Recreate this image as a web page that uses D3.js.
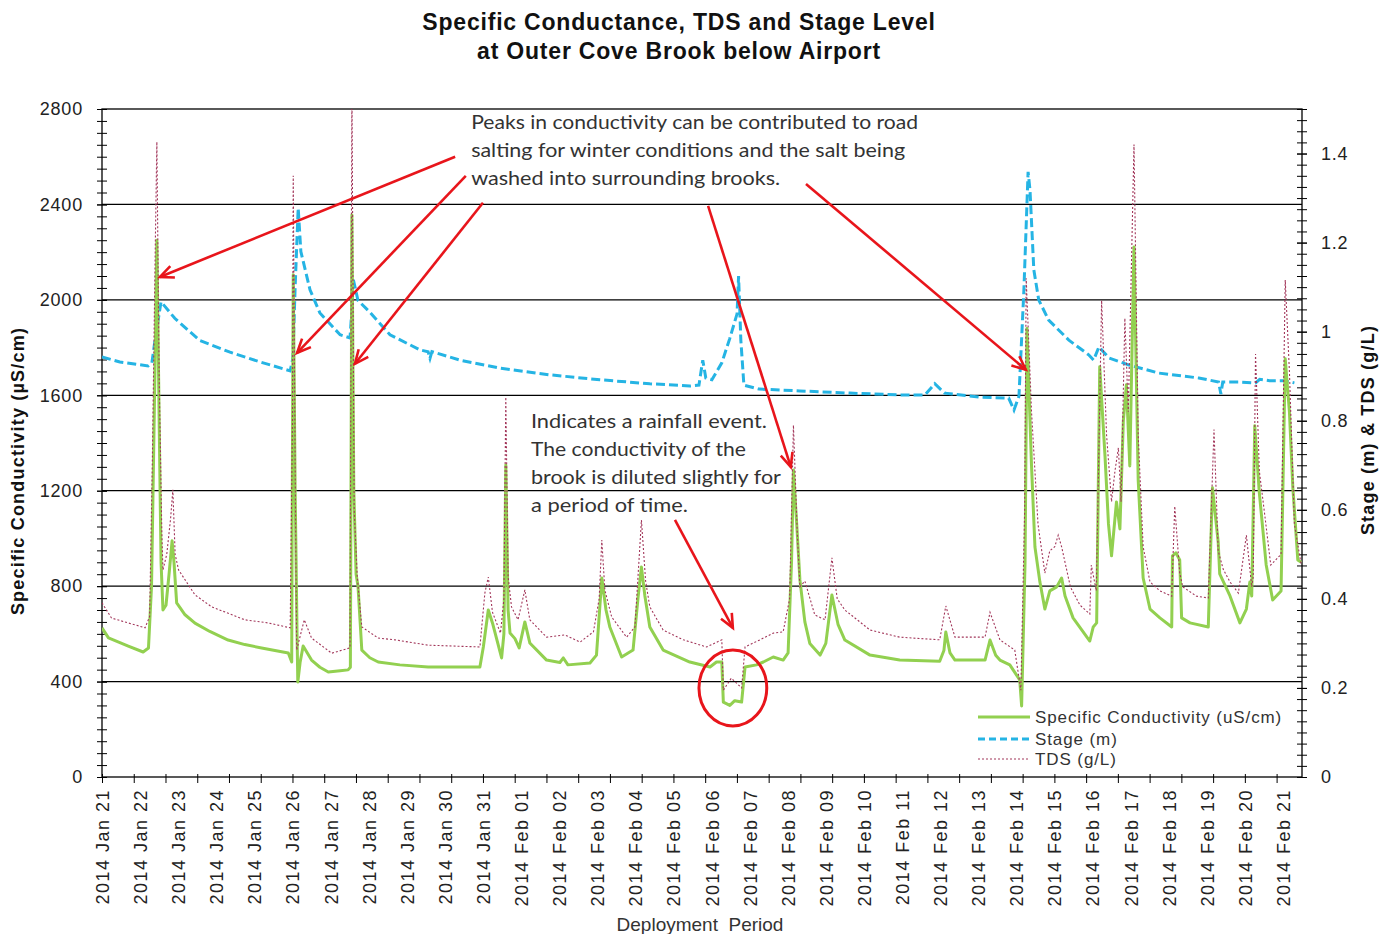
<!DOCTYPE html>
<html><head><meta charset="utf-8">
<script src="https://cdn.jsdelivr.net/npm/d3@7"></script>
<style>body{margin:0;background:#fff} svg{display:block}</style>
</head><body><svg id="c" width="1390" height="934"></svg>
<script>
// ---------- DATA ----------
const dayLabels = ["2014 Jan 21","2014 Jan 22","2014 Jan 23","2014 Jan 24","2014 Jan 25","2014 Jan 26","2014 Jan 27","2014 Jan 28","2014 Jan 29","2014 Jan 30","2014 Jan 31","2014 Feb 01","2014 Feb 02","2014 Feb 03","2014 Feb 04","2014 Feb 05","2014 Feb 06","2014 Feb 07","2014 Feb 08","2014 Feb 09","2014 Feb 10","2014 Feb 11","2014 Feb 12","2014 Feb 13","2014 Feb 14","2014 Feb 15","2014 Feb 16","2014 Feb 17","2014 Feb 18","2014 Feb 19","2014 Feb 20","2014 Feb 21"];
const leftTicks = [0,400,800,1200,1600,2000,2400,2800];
const rightTicks = [0,0.2,0.4,0.6,0.8,1,1.2,1.4];

// days since 2014 Jan 21 00:00
const condDays = [0.0,0.17,0.69,1.08,1.22,1.30,1.39,1.44,1.50,1.55,1.60,1.68,1.76,1.84,1.89,1.96,2.18,2.44,2.83,3.31,3.75,4.19,4.54,4.89,4.98,4.99,5.02,5.07,5.12,5.14,5.20,5.28,5.50,5.72,5.94,6.25,6.46,6.52,6.56,6.61,6.67,6.72,6.82,7.03,7.25,7.82,8.56,9.40,9.92,10.01,10.14,10.26,10.49,10.55,10.60,10.66,10.71,10.84,10.95,11.10,11.23,11.67,12.02,12.11,12.23,12.81,12.98,13.12,13.23,13.33,13.64,13.94,14.07,14.16,14.25,14.38,14.73,15.43,15.96,16.13,16.27,16.31,16.48,16.61,16.79,16.88,17.18,17.36,17.62,17.88,18.01,18.10,18.15,18.24,18.32,18.45,18.58,18.85,19.00,19.16,19.32,19.50,20.16,20.94,21.99,22.10,22.15,22.26,22.39,23.18,23.31,23.46,23.57,23.83,24.09,24.14,24.23,24.28,24.40,24.49,24.62,24.75,24.88,25.06,25.19,25.28,25.49,25.93,26.02,26.11,26.19,26.33,26.42,26.50,26.63,26.72,26.81,26.89,26.98,27.09,27.20,27.33,27.51,27.77,28.08,28.10,28.19,28.29,28.34,28.56,29.04,29.15,29.30,29.34,29.61,29.87,30.04,30.13,30.18,30.26,30.38,30.56,30.73,30.95,31.06,31.17,31.26,31.39,31.48];
const condValues = [625,583,549,524,541,800,1700,2250,1500,900,700,720,850,990,900,730,680,645,610,574,555,541,530,520,482,1000,2105,1200,600,398,480,549,490,460,440,445,449,460,2356,1200,850,800,532,500,482,470,461,461,461,545,700,640,499,600,1308,700,604,580,541,650,562,490,480,499,470,478,511,834,700,629,503,532,750,880,760,629,532,482,461,482,482,314,300,320,314,461,470,482,503,490,520,900,1287,1050,826,650,560,511,560,763,640,574,511,490,485,530,608,520,490,490,574,510,490,470,407,298,900,1880,1304,964,817,704,780,797,834,759,667,570,629,646,1720,1342,1061,927,1153,1040,1493,1644,1304,2222,1245,834,704,667,629,927,940,910,667,646,629,1212,985,851,759,646,704,817,759,1472,1191,889,742,780,1753,1530,1212,910,900];

const tdsDays = [0.0,0.25,0.69,1.13,1.25,1.32,1.40,1.44,1.50,1.57,1.60,1.70,1.80,1.86,1.92,2.01,2.44,2.88,3.75,4.36,4.94,5.00,5.02,5.07,5.11,5.31,5.50,6.03,6.51,6.56,6.62,6.70,6.82,7.25,7.69,8.56,9.92,10.05,10.14,10.25,10.46,10.55,10.60,10.66,10.75,10.92,11.10,11.23,11.67,12.15,12.55,12.90,13.05,13.12,13.20,13.38,13.77,13.99,14.16,14.27,14.38,14.73,15.26,15.87,16.27,16.31,16.52,16.79,16.88,17.27,17.62,17.88,18.05,18.15,18.25,18.32,18.45,18.71,18.98,19.16,19.30,19.50,20.16,20.94,21.99,22.15,22.39,23.18,23.31,23.57,23.96,24.12,24.22,24.26,24.40,24.57,24.75,24.88,25.01,25.10,25.19,25.42,25.67,25.93,25.97,26.10,26.24,26.37,26.50,26.59,26.68,26.75,26.85,26.94,27.09,27.20,27.33,27.51,27.77,28.08,28.16,28.29,28.37,28.73,29.04,29.19,29.30,29.43,29.61,29.83,30.04,30.18,30.22,30.28,30.38,30.51,30.68,30.95,31.06,31.17,31.30,31.48];
const tdsValues = [0.391,0.357,0.346,0.335,0.36,0.7,1.2,1.426,0.9,0.55,0.465,0.5,0.58,0.645,0.5,0.465,0.409,0.382,0.353,0.346,0.335,0.8,1.35,0.7,0.285,0.353,0.312,0.278,0.29,1.55,0.6,0.45,0.337,0.312,0.308,0.296,0.292,0.413,0.449,0.37,0.323,0.4,0.853,0.45,0.382,0.353,0.42,0.353,0.314,0.319,0.303,0.326,0.4,0.532,0.42,0.359,0.314,0.337,0.577,0.44,0.382,0.33,0.308,0.292,0.308,0.195,0.222,0.2,0.292,0.308,0.323,0.326,0.4,0.79,0.55,0.427,0.44,0.364,0.353,0.492,0.4,0.375,0.33,0.314,0.308,0.384,0.314,0.314,0.37,0.308,0.285,0.195,0.6,1.12,0.82,0.568,0.458,0.508,0.517,0.543,0.517,0.427,0.386,0.366,0.476,0.418,1.07,0.768,0.618,0.687,0.739,0.618,1.03,0.82,1.42,0.768,0.517,0.438,0.418,0.406,0.608,0.458,0.427,0.406,0.402,0.78,0.508,0.467,0.438,0.413,0.543,0.427,0.45,0.95,0.687,0.597,0.476,0.5,1.116,0.91,0.568,0.476];

const stageDays = [0.0,0.47,1.21,1.31,1.39,1.50,1.55,1.91,2.57,3.36,4.15,4.94,5.01,5.07,5.15,5.22,5.46,5.72,6.25,6.51,6.56,6.59,6.72,7.03,7.56,8.35,8.56,8.61,8.66,9.40,10.45,11.76,13.07,14.38,15.43,15.67,15.77,15.85,16.01,16.27,16.48,16.67,16.71,16.77,16.85,17.25,18.32,19.63,20.94,21.60,21.86,22.12,23.02,23.80,23.94,24.07,24.20,24.31,24.36,24.46,24.59,24.85,25.38,25.90,26.03,26.17,26.43,26.96,27.74,28.79,29.31,29.37,29.42,29.84,30.28,30.39,30.65,31.02,31.30];
const stageValues = [0.943,0.932,0.923,0.93,0.98,1.04,1.067,1.03,0.98,0.954,0.932,0.912,0.94,1.1,1.278,1.18,1.094,1.042,0.993,0.986,1.05,1.12,1.07,1.044,0.993,0.959,0.955,0.94,0.955,0.936,0.918,0.903,0.892,0.883,0.878,0.88,0.936,0.896,0.892,0.93,0.985,1.04,1.125,0.98,0.88,0.871,0.867,0.862,0.858,0.858,0.883,0.862,0.853,0.851,0.824,0.855,1.094,1.359,1.318,1.139,1.071,1.026,0.981,0.948,0.936,0.966,0.941,0.925,0.907,0.896,0.887,0.86,0.887,0.887,0.885,0.893,0.89,0.89,0.885];

// annotations (day, conductivity units)
const noteLines1 = ["Peaks in conductivity can be contributed to road","salting for winter conditions and the salt being","washed into surrounding brooks."];
const noteWidths1 = [447,434,309];
const noteLines2 = ["Indicates a rainfall event.","The conductivity of the","brook is diluted slightly for","a period of time."];
const noteWidths2 = [236,215,250,157];
const arrowFrom = [[9.27,2600],[9.55,2520],[10.0,2407],[15.91,2394],[18.48,2486],[15.04,1078]];
const arrowTo   = [[1.52,2096],[5.12,1778],[6.64,1732],[18.08,1300],[24.25,1707],[16.56,625]];

// ---------- CHART ----------
const svg = d3.select("#c");
const L=102,R=1302,T=109,B=777;
const x = d3.scaleLinear().domain([0,31.5]).range([L,R]);
const yL = d3.scaleLinear().domain([0,2800]).range([B,T]);
const yR = d3.scaleLinear().domain([0,1.5]).range([B,T]);
const FONT = "Arial, 'Liberation Sans', sans-serif";

svg.append("rect").attr("width",1390).attr("height",934).attr("fill","#fff");

// title
[["Specific Conductance, TDS and Stage Level",30],["at Outer Cove Brook below Airport",59]].forEach(([s,y])=>{
  svg.append("text").attr("x",679).attr("y",y).attr("text-anchor","middle")
    .attr("font-family",FONT).attr("font-weight","bold").attr("font-size",23).attr("letter-spacing",0.8).attr("fill","#111")
    .text(s);
});

// grid
svg.append("g").selectAll("line").data(leftTicks.slice(1,-1)).join("line")
  .attr("x1",L).attr("x2",R).attr("y1",d=>yL(d)).attr("y2",d=>yL(d))
  .attr("stroke","#000").attr("stroke-width",1.2);

// axes
const minorL = d3.range(0,2801,50);
svg.append("g").attr("transform",`translate(${L},0)`)
  .call(d3.axisLeft(yL).tickValues(minorL).tickSize(5).tickFormat(""))
  .call(g=>g.selectAll(".tick line").attr("x1",5))
  .call(g=>g.select(".domain").remove());
svg.append("g").attr("transform",`translate(${L},0)`)
  .call(d3.axisLeft(yL).tickValues(leftTicks).tickSize(5).tickPadding(14).tickFormat(d3.format("d")))
  .call(g=>g.selectAll(".tick line").attr("x1",5))
  .call(g=>g.select(".domain").remove())
  .call(g=>g.selectAll("text").attr("font-family",FONT).attr("font-size",18).attr("fill","#222").attr("letter-spacing",0.8));

const minorR = d3.range(0,61).map(i=>i*0.025);
svg.append("g").attr("transform",`translate(${R},0)`)
  .call(d3.axisRight(yR).tickValues(minorR).tickSize(5).tickFormat(""))
  .call(g=>g.selectAll(".tick line").attr("x1",-5))
  .call(g=>g.select(".domain").remove());
svg.append("g").attr("transform",`translate(${R},0)`)
  .call(d3.axisRight(yR).tickValues(rightTicks).tickSize(5).tickPadding(14).tickFormat(d3.format("~g")))
  .call(g=>g.selectAll(".tick line").attr("x1",-5))
  .call(g=>g.select(".domain").remove())
  .call(g=>g.selectAll("text").attr("font-family",FONT).attr("font-size",18).attr("fill","#222").attr("letter-spacing",0.8));

const xTicks = d3.range(0,38).map(i=>i*20/24);
svg.append("g").attr("transform",`translate(0,${B})`)
  .call(d3.axisBottom(x).tickValues(xTicks).tickSize(6).tickFormat(""))
  .call(g=>g.selectAll(".tick line").attr("y1",-3))
  .call(g=>g.select(".domain").remove());
svg.append("g").attr("transform",`translate(0,${B})`)
  .call(d3.axisBottom(x).tickValues(d3.range(dayLabels.length)).tickSize(0).tickFormat((d,i)=>dayLabels[i]))
  .call(g=>g.select(".domain").remove())
  .call(g=>g.selectAll("text").attr("transform","rotate(-90)").attr("text-anchor","end")
     .attr("x",-12).attr("y",0).attr("dy","0.36em")
     .attr("font-family",FONT).attr("font-size",18).attr("letter-spacing",1.5).attr("fill","#222"));

// frame
svg.append("rect").attr("x",L).attr("y",T).attr("width",R-L).attr("height",B-T)
  .attr("fill","none").attr("stroke","#000").attr("stroke-width",1.3);

// axis titles
svg.append("text").attr("transform","translate(18,471) rotate(-90)").attr("dy","0.36em")
  .attr("text-anchor","middle").attr("font-family",FONT).attr("font-weight","bold").attr("font-size",18).attr("letter-spacing",1.2).attr("fill","#111")
  .text("Specific Conductivity (µS/cm)");
svg.append("text").attr("transform","translate(1368,430) rotate(-90)").attr("dy","0.36em")
  .attr("text-anchor","middle").attr("font-family",FONT).attr("font-weight","bold").attr("font-size",18).attr("letter-spacing",1.2).attr("fill","#111")
  .text("Stage (m) & TDS (g/L)");
svg.append("text").attr("x",700).attr("y",931).attr("text-anchor","middle")
  .attr("font-family",FONT).attr("font-size",19).attr("fill","#333").attr("xml:space","preserve")
  .text("Deployment  Period");

// series
svg.append("clipPath").attr("id","clip").append("rect").attr("x",L).attr("y",T).attr("width",R-L).attr("height",B-T);
const plot = svg.append("g").attr("clip-path","url(#clip)");
const lineL = d3.line().x(d=>x(d[0])).y(d=>yL(d[1]));
const lineR = d3.line().x(d=>x(d[0])).y(d=>yR(d[1]));
plot.append("path").datum(stageDays.map((d,i)=>[d,stageValues[i]])).attr("d",lineR)
  .attr("fill","none").attr("stroke","#25b4e4").attr("stroke-width",3).attr("stroke-dasharray","9,4");
plot.append("path").datum(condDays.map((d,i)=>[d,condValues[i]])).attr("d",lineL)
  .attr("fill","none").attr("stroke","#92d050").attr("stroke-width",3).attr("stroke-linejoin","round");
plot.append("path").datum(tdsDays.map((d,i)=>[d,tdsValues[i]])).attr("d",lineR)
  .attr("fill","none").attr("stroke","#a2365a").attr("stroke-width",1.1).attr("stroke-dasharray","2,2");

// legend
const lg = svg.append("g");
const legendItems = [
  {label:"Specific Conductivity (uS/cm)", color:"#92d050", w:3, dash:null, y:717},
  {label:"Stage (m)", color:"#25b4e4", w:3, dash:"7,4", y:739},
  {label:"TDS (g/L)", color:"#a2365a", w:1.1, dash:"2,2", y:759}];
legendItems.forEach(it=>{
  lg.append("line").attr("x1",978).attr("x2",1030).attr("y1",it.y).attr("y2",it.y)
    .attr("stroke",it.color).attr("stroke-width",it.w).attr("stroke-dasharray",it.dash);
  lg.append("text").attr("x",1035).attr("y",it.y).attr("dy","0.36em")
    .attr("font-family",FONT).attr("font-size",17).attr("letter-spacing",0.9).attr("fill","#333").text(it.label);
});

// annotations
const ann = svg.append("g");
const red = "#e8151b";
arrowFrom.forEach((f,i)=>{
  const t = arrowTo[i];
  const x1=x(f[0]), y1=yL(f[1]), x2=x(t[0]), y2=yL(t[1]);
  ann.append("line").attr("x1",x1).attr("y1",y1).attr("x2",x2).attr("y2",y2)
    .attr("stroke",red).attr("stroke-width",2.6);
  const a = Math.atan2(y2-y1,x2-x1), h=15, sp=0.42;
  const p1=[x2-h*Math.cos(a-sp), y2-h*Math.sin(a-sp)], p2=[x2-h*Math.cos(a+sp), y2-h*Math.sin(a+sp)];
  ann.append("path").attr("d",`M${p1}L${x2},${y2}L${p2}`).attr("fill","none")
    .attr("stroke",red).attr("stroke-width",2.6).attr("stroke-linejoin","miter");
});
ann.append("ellipse").attr("cx",x(16.56)).attr("cy",yL(373))
  .attr("rx",x(0.89)-x(0)).attr("ry",yL(0)-yL(159))
  .attr("fill","none").attr("stroke",red).attr("stroke-width",3);

const NF = "Lato, 'Open Sans', sans-serif";
noteLines1.forEach((s,i)=>{
  ann.append("text").attr("x",x(9.69)).attr("y",yL(2717)+i*28)
    .attr("font-family",NF).attr("font-size",19).attr("fill","#333")
    .attr("textLength",noteWidths1[i]).attr("lengthAdjust","spacingAndGlyphs").text(s);
});
noteLines2.forEach((s,i)=>{
  ann.append("text").attr("x",x(11.26)).attr("y",yL(1463)+i*28)
    .attr("font-family",NF).attr("font-size",19).attr("fill","#333")
    .attr("textLength",noteWidths2[i]).attr("lengthAdjust","spacingAndGlyphs").text(s);
});
</script></body></html>
